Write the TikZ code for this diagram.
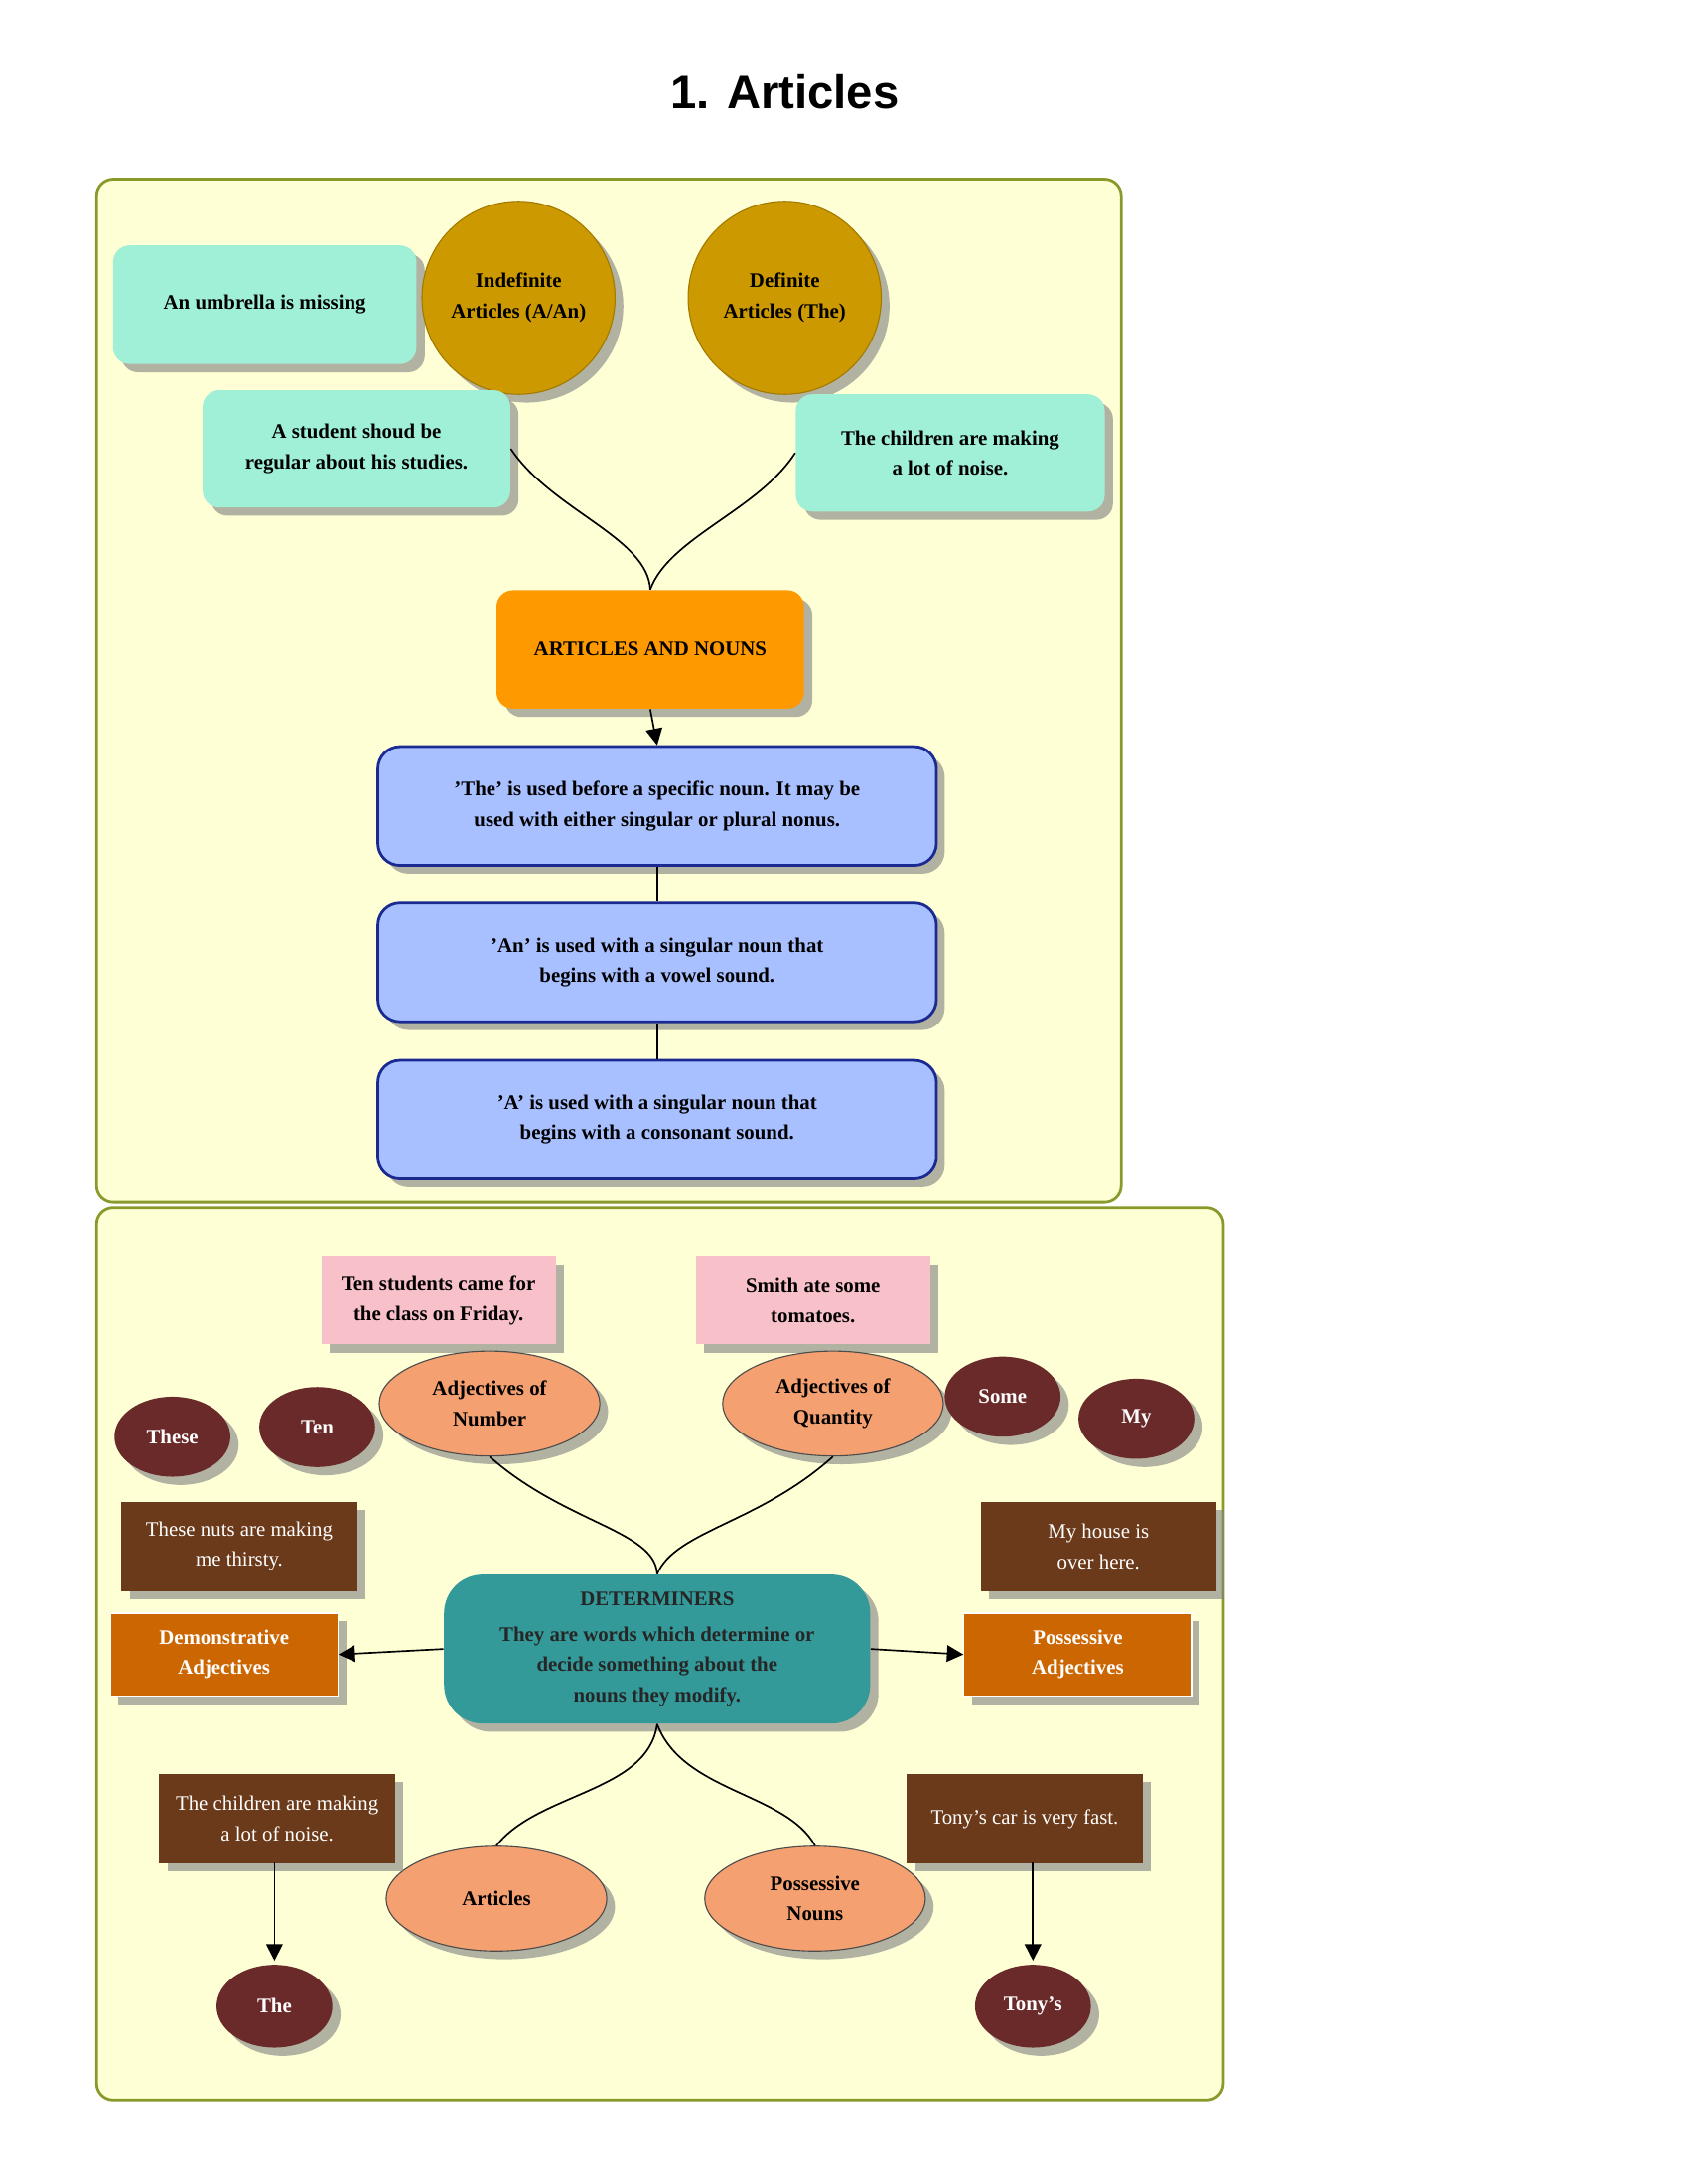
\documentclass[tikz,border=0pt]{standalone}
\usepackage{fontspec}
\setmainfont{Liberation Serif}
\newfontfamily\titlefont{Liberation Sans}
\usetikzlibrary{shapes.geometric,shadows,arrows.meta}
\definecolor{panel}{HTML}{FFFFD6}
\definecolor{panelb}{HTML}{8A9A2A}
\definecolor{mint}{HTML}{A0F0D8}
\definecolor{gold}{HTML}{CC9900}
\definecolor{orng}{HTML}{FF9900}
\definecolor{blu}{HTML}{A8C0FF}
\definecolor{blub}{HTML}{1A2A90}
\definecolor{pnk}{HTML}{F8C0C8}
\definecolor{salmon}{HTML}{F4A070}
\definecolor{maroon}{HTML}{6B2A2A}
\definecolor{brwn}{HTML}{6B3A1A}
\definecolor{obrown}{HTML}{CC6600}
\definecolor{teal}{HTML}{339999}
\tikzset{
 base/.style={align=center,font=\fontsize{7.5}{11}\selectfont\bfseries,drop shadow={shadow xshift=3pt,shadow yshift=-3pt,opacity=0.6}},
 mintbox/.style={base,rectangle,rounded corners=6pt,fill=mint,minimum width=#1},
 circ/.style={base,circle,fill=gold,minimum size=70pt,draw=gold!80!black},
 bluebox/.style={base,rectangle,rounded corners=8pt,fill=blu,draw=blub,line width=1pt,minimum width=202.5pt,minimum height=43pt},
 pinkbox/.style={base,rectangle,fill=pnk,minimum width=85pt,minimum height=32pt},
 sal/.style={base,ellipse,fill=salmon,draw=black!70,minimum width=80pt,minimum height=38pt},
 mar/.style={base,ellipse,fill=maroon,text=white,minimum width=42pt,minimum height=29pt},
 brbox/.style={base,rectangle,fill=brwn,text=white,font=\fontsize{7.5}{11}\selectfont,minimum width=85.5pt,minimum height=32.5pt},
 obox/.style={base,rectangle,fill=obrown,text=white,minimum width=82.5pt,minimum height=30pt,draw=white},
 con/.style={line width=0.6pt},
 arr/.style={con,-{Triangle[length=6pt,width=6pt]}}
}
\begin{document}
\begin{tikzpicture}[x=0.5pt,y=-0.5pt]
\useasboundingbox[fill=white] (0,0) rectangle (1224,1584);
\node[font=\titlefont\fontsize{17}{20}\selectfont\bfseries] (title) at (569,67) {1. Articles};
\draw[panelb,fill=panel,line width=1pt,rounded corners=6pt] (70,130) rectangle (813,872);
\draw[panelb,fill=panel,line width=1pt,rounded corners=6pt] (70,876) rectangle (887,1523);
% top
\node[mintbox=110pt,minimum height=43pt] (umb) at (192,221) {An umbrella is missing};
\node[circ] (ind) at (376,216) {Indefinite\\Articles (A/An)};
\node[circ] (def) at (569,216) {Definite\\Articles (The)};
\node[mintbox=111.5pt,minimum height=42.5pt] (stu) at (258.5,325.5) {A student shoud be\\regular about his studies.};
\node[mintbox=112pt,minimum height=42.5pt] (chi) at (689,328.5) {The children are making\\a lot of noise.};
\node[base,rectangle,rounded corners=6pt,fill=orng,minimum width=111.5pt,minimum height=43pt] (art) at (471.5,471) {ARTICLES AND NOUNS};
\node[bluebox] (b1) at (476.5,584.5) {'The' is used before a specific noun. It may be\\used with either singular or plural nonus.};
\node[bluebox] (b2) at (476.5,698) {'An' is used with a singular noun that\\begins with a vowel sound.};
\node[bluebox] (b3) at (476.5,812) {'A' is used with a singular noun that\\begins with a consonant sound.};
\draw[con] (stu.east) .. controls (400,370) and (470,390) .. (art.north);
\draw[con] (chi.west) .. controls (550,370) and (485,390) .. (art.north);
\draw[arr] (art.south) -- (b1.north);
\draw[con] (b1.south) -- (b2.north);
\draw[con] (b2.south) -- (b3.north);
% bottom
\node[pinkbox] (p1) at (318,943) {Ten students came for\\the class on Friday.};
\node[pinkbox] (p2) at (589.5,943) {Smith ate some\\tomatoes.};
\node[sal] (num) at (355,1018) {Adjectives of\\Number};
\node[sal] (qua) at (604,1018) {Adjectives of\\Quantity};
\node[mar] (these) at (125,1042) {These};
\node[mar] (ten) at (230,1035) {Ten};
\node[mar] (some) at (727,1013) {Some};
\node[mar] (my) at (824,1029) {My};
\node[brbox] (nuts) at (173.5,1121.5) {These nuts are making\\me thirsty.};
\node[brbox] (house) at (796.5,1121.5) {My house is\\over here.};
\node[obox] (dem) at (162.5,1200) {Demonstrative\\Adjectives};
\node[obox] (pos) at (781.5,1200) {Possessive\\Adjectives};
\node[base,rectangle,rounded corners=14pt,fill=teal,minimum width=154.5pt,minimum height=54pt,text=black!85] (det) at (476.5,1196) {DETERMINERS\\[2pt]They are words which determine or\\decide something about the\\nouns they modify.};
\draw[arr] (det.west) -- (dem.east);
\draw[arr] (det.east) -- (pos.west);
\draw[con] (num.south) .. controls (410,1105) and (475,1110) .. (det.north);
\draw[con] (qua.south) .. controls (550,1105) and (490,1110) .. (det.north);
\node[sal] (arts) at (360,1377) {Articles};
\node[sal] (pn) at (591,1377) {Possessive\\Nouns};
\draw[con] (det.south) .. controls (470,1300) and (390,1300) .. (arts.north);
\draw[con] (det.south) .. controls (495,1300) and (570,1300) .. (pn.north);
\node[brbox] (chn) at (201,1319) {The children are making\\a lot of noise.};
\node[brbox] (tony) at (743,1319) {Tony's car is very fast.};
\node[mar,minimum width=42pt,minimum height=30pt] (the) at (199,1455) {The};
\node[mar,minimum width=42pt,minimum height=30pt] (tonys) at (749,1455) {Tony's};
\coordinate (c1) at (199,1351);
\coordinate (c2) at (749,1351);
\draw[arr] (c1) -- (199,1422);
\draw[arr] (c2) -- (749,1422);
\end{tikzpicture}
\end{document}
